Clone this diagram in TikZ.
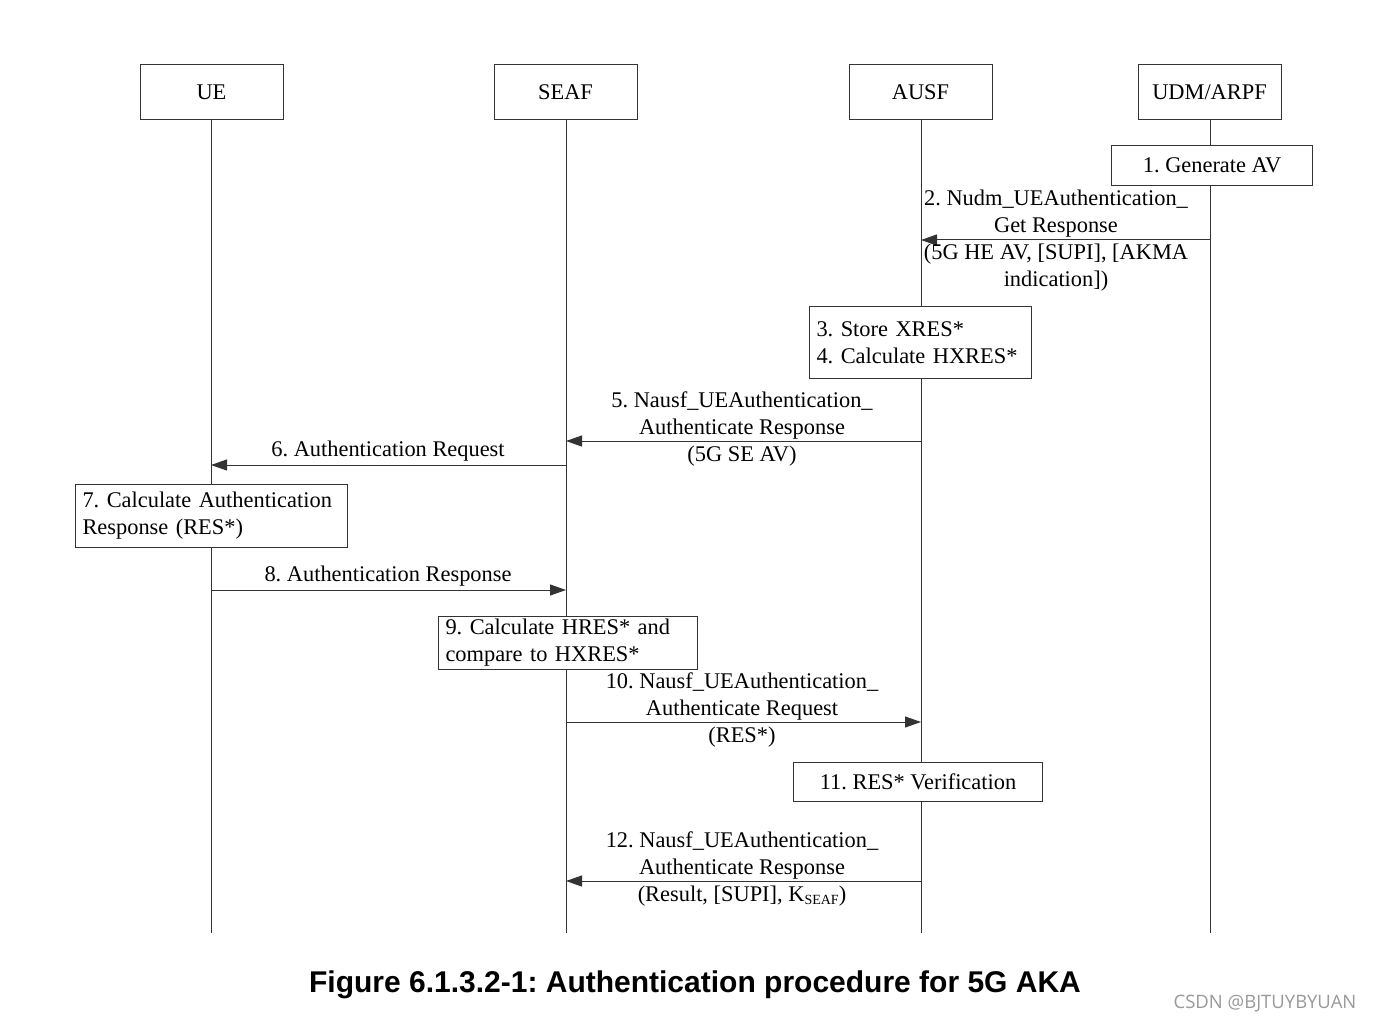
\documentclass[tikz,border=0pt]{standalone}
\usepackage{fontspec}
\setmainfont{Liberation Serif}
\newfontfamily\capfont{Liberation Sans}
\newfontfamily\wmfont{Open Sans}
\usetikzlibrary{arrows.meta}
\newcommand{\lfont}{\fontsize{22.4}{27}\selectfont}
\frenchspacing
\begin{document}
\frenchspacing
\begin{tikzpicture}[x=1pt,y=-1pt,
  line width=1pt,
  actor/.style={draw=black!80, fill=white, minimum width=143pt, minimum height=55pt, inner sep=0pt, font=\lfont},
  stepbox/.style={draw=black!80, fill=white, inner sep=0pt, anchor=north west, font=\lfont},
  lbl/.style={font=\lfont, align=center, inner sep=0pt},
  msg/.style={draw=black!80, -{Triangle[length=16pt,width=11pt]}},
  life/.style={draw=black!80}]
\useasboundingbox (0,0) rectangle (1373,1024);
% actors
\node[actor] (ue)   at (211.5,92.5)  {UE};
\node[actor] (seaf) at (565.5,92.5)  {SEAF};
\node[actor] (ausf) at (920.5,92.5)  {AUSF};
\node[actor] (udm)  at (1209.5,92.5) {UDM/ARPF};
% lifeline ends
\coordinate (ueend)   at (211,933);
\coordinate (seafend) at (566,933);
\coordinate (ausfend) at (921,933);
\coordinate (udmend)  at (1210,933);
\draw[life] (ue.south -| ueend) -- (ueend);
\draw[life] (seaf.south -| seafend) -- (seafend);
\draw[life] (ausf.south -| ausfend) -- (ausfend);
\draw[life] (udm.south -| udmend) -- (udmend);
% step boxes
\node[stepbox, minimum width=201pt, minimum height=40pt] (s1) at (1111,145) {};
\node[lbl] (s1t) at (s1.center) {1. Generate AV};
\node[stepbox, minimum width=222pt, minimum height=72pt, text width=208pt, inner xsep=7pt, align=left] (s3) at (809,306) {3. Store XRES*\\4. Calculate HXRES*};
\node[stepbox, minimum width=272pt, minimum height=63pt, text width=258pt, inner xsep=7pt, align=left] (s7) at (75,484) {7. Calculate Authentication\\Response (RES*)};
\node[stepbox, minimum width=259pt, minimum height=53pt, text width=245pt, inner xsep=7pt, align=left] (s9) at (438,616) {9. Calculate HRES* and\\compare to HXRES*};
\node[stepbox, minimum width=249pt, minimum height=39pt] (s11) at (793,762) {};
\node[lbl] (s11t) at (s11.center) {11. RES* Verification};
% message coordinates
\coordinate (m2a) at (1210,240); \coordinate (m2b) at (921,240);
\coordinate (m5a) at (921,441);  \coordinate (m5b) at (566,441);
\coordinate (m6a) at (566,465);  \coordinate (m6b) at (211,465);
\coordinate (m8a) at (211,590);  \coordinate (m8b) at (566,590);
\coordinate (m10a) at (566,722); \coordinate (m10b) at (921,722);
\coordinate (m12a) at (921,881); \coordinate (m12b) at (566,881);
\draw[msg] (m2a) -- (m2b);
\draw[msg] (m5a) -- (m5b);
\draw[msg] (m6a) -- (m6b);
\draw[msg] (m8a) -- (m8b);
\draw[msg] (m10a) -- (m10b);
\draw[msg] (m12a) -- (m12b);
% labels
\node[lbl] (l2) at (1056,241) {2. Nudm\_UEAuthentication\_\\Get Response\\(5G HE AV, [SUPI], [AKMA\\indication])};
\node[lbl] (l5) at (742,429) {5. Nausf\_UEAuthentication\_\\Authenticate Response\\(5G SE AV)};
\node[lbl] (l6) at (388,451) {6. Authentication Request};
\node[lbl] (l8) at (388,576) {8. Authentication Response};
\node[lbl] (l10) at (742,710) {10. Nausf\_UEAuthentication\_\\Authenticate Request\\(RES*)};
\node[lbl] (l12) at (742,869) {12. Nausf\_UEAuthentication\_\\Authenticate Response\\(Result, [SUPI], K\raisebox{-0.3ex}{\fontsize{14}{14}\selectfont SEAF})};
% caption
\node[inner sep=0pt, font=\capfont\bfseries\fontsize{30}{36}\selectfont] (cap) at (695,985) {Figure 6.1.3.2-1: Authentication procedure for 5G AKA};
\node[inner sep=0pt, font=\wmfont\fontsize{18.5}{22}\selectfont, text=black!40] (wm) at (1265,1004) {CSDN @BJTUYBYUAN};
\end{tikzpicture}
\end{document}
